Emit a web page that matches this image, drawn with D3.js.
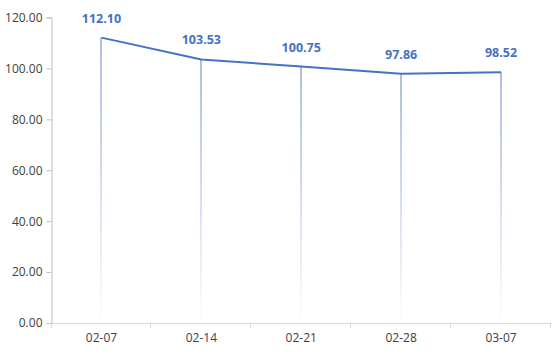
<!DOCTYPE html>
<html>
<head>
<meta charset="utf-8">
<script src="https://cdn.jsdelivr.net/npm/d3@7"></script>
<style>
  body { margin: 0; background: #fff; }
  text { font-family: "Open Sans", "Noto Sans", sans-serif; }
</style>
</head>
<body>
<div id="chart"></div>
<script>
var categories = ['02-07', '02-14', '02-21', '02-28', '03-07'];
var values = [112.10, 103.53, 100.75, 97.86, 98.52];
var yTicks = [0, 20, 40, 60, 80, 100, 120];

var width = 554, height = 361;
var margin = { top: 17.5, right: 3, bottom: 38, left: 51.5 };

var svg = d3.select('#chart')
  .append('svg')
  .attr('width', width)
  .attr('height', height);

var x = d3.scaleBand()
  .domain(categories)
  .range([margin.left, width - margin.right]);

var y = d3.scaleLinear()
  .domain([0, 120])
  .range([height - margin.bottom, margin.top]);

var lineColor = '#4472c4';

// gradient for drop lines
var grad = svg.append('defs').append('linearGradient')
  .attr('id', 'drop')
  .attr('gradientUnits', 'objectBoundingBox')
  .attr('x1', 0).attr('y1', 0).attr('x2', 0).attr('y2', 1);
grad.append('stop').attr('offset', '0%').attr('stop-color', '#5a76b8').attr('stop-opacity', 0.95);
grad.append('stop').attr('offset', '100%').attr('stop-color', lineColor).attr('stop-opacity', 0.02);

// y axis
var yAxis = svg.append('g')
  .attr('transform', 'translate(' + margin.left + ',0)')
  .call(d3.axisLeft(y).tickValues(yTicks).tickSize(5).tickPadding(4)
    .tickFormat(function(d) { return d.toFixed(2); }));
yAxis.select('.domain').attr('stroke', '#bfbfbf');
yAxis.selectAll('.tick line').attr('stroke', '#bfbfbf');
yAxis.selectAll('text').attr('fill', '#404040').style('font-size', '12px');

// drop lines
svg.append('g').selectAll('rect')
  .data(values)
  .enter()
  .append('rect')
  .attr('x', function(d, i) { return Math.round(x(categories[i]) + x.bandwidth() / 2) - 0.5; })
  .attr('y', function(d) { return y(d); })
  .attr('width', 1)
  .attr('height', function(d) { return y(0) - y(d) - 1; })
  .attr('fill', 'url(#drop)');

// x axis
var xAxis = svg.append('g')
  .attr('transform', 'translate(0,' + (y(0)) + ')')
  .call(d3.axisBottom(x).tickSize(0).tickPadding(10));
xAxis.select('.domain').attr('stroke', '#d9d9d9');
xAxis.selectAll('text').attr('fill', '#404040').style('font-size', '12px');
var bounds = categories.map(function(c) { return x(c); }).concat([x.range()[1]]);
xAxis.selectAll('.bound')
  .data(bounds)
  .enter()
  .append('line')
  .attr('x1', function(d) { return Math.round(d) - 0.5; })
  .attr('x2', function(d) { return Math.round(d) - 0.5; })
  .attr('y1', 0).attr('y2', 5)
  .attr('stroke', '#d9d9d9');

// line
var line = d3.line()
  .x(function(d, i) { return x(categories[i]) + x.bandwidth() / 2; })
  .y(function(d) { return y(d); });

svg.append('path')
  .datum(values)
  .attr('d', line)
  .attr('fill', 'none')
  .attr('stroke', lineColor)
  .attr('stroke-width', 2)
  .attr('stroke-linejoin', 'round');

// labels
svg.append('g').selectAll('text')
  .data(values)
  .enter()
  .append('text')
  .attr('x', function(d, i) { return x(categories[i]) + x.bandwidth() / 2; })
  .attr('y', function(d) { return y(d) - 15; })
  .attr('text-anchor', 'middle')
  .attr('fill', '#4472c4')
  .style('font-size', '12.5px')
  .style('font-weight', 'bold')
  .text(function(d) { return d.toFixed(2); });
</script>
</body>
</html>
